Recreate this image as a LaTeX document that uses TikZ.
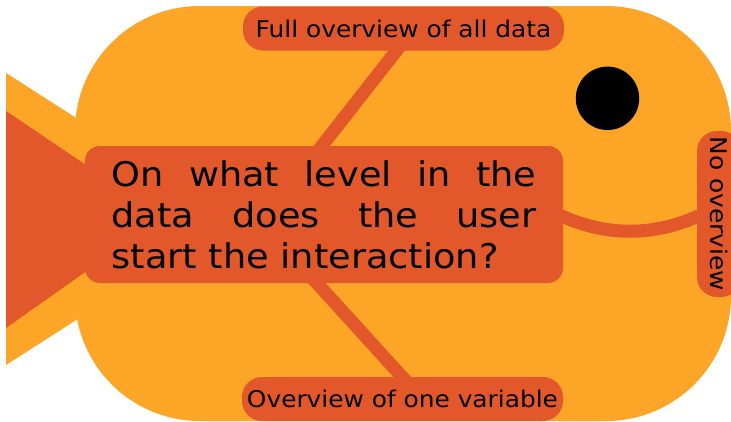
\documentclass[tikz,border=0pt]{standalone}
\usepackage{fontspec}
\setmainfont{DejaVu Sans}[FakeStretch=1.08]
\definecolor{fishbody}{RGB}{252,165,38}
\definecolor{fishred}{RGB}{227,88,42}
\pgfdeclarelayer{backdrop}
\pgfdeclarelayer{links}
\pgfsetlayers{backdrop,links,main}
\begin{document}
\begin{tikzpicture}[x=1pt,y=-1pt,
  pill/.style={fill=fishred, rounded corners=20pt, inner sep=0pt,
    minimum height=44pt, font=\fontsize{23}{27}\selectfont},
  bigbox/.style={fill=fishred, rounded corners=15pt, inner sep=0pt},
  link/.style={draw=fishred, line width=13pt},
]
% page frame; anything beyond it falls off the page
\useasboundingbox (0,0) rectangle (731,421);

\begin{pgfonlayer}{backdrop}
  \fill[white] (0,0) rectangle (731,421);
  % fish body
  \fill[fishbody, rounded corners=125pt] (75,6) rectangle (731,421);
  % tail: orange rim with red inner fin
  \fill[fishbody] (6,73) -- (234,219) -- (6,365) -- cycle;
  \fill[fishred] (6,111) -- (163,217) -- (6,328) -- cycle;
  % eye
  \fill[black] (607.5,98.3) circle[radius=31.7pt];
\end{pgfonlayer}

% anchor points of the straight links
\coordinate (topfoot) at (310.8,160);
\coordinate (tophead) at (408,36);
\coordinate (botfoot) at (305,270);
\coordinate (bothead) at (414,390);

% question in the middle
\node[bigbox, minimum width=478pt, minimum height=137pt] (main) at (324,214.5)
  {\parbox{425pt}{\fontsize{34}{41}\selectfont
    On\hfill what\hfill level\hfill in\hfill the\\
    data\hfill does\hfill the\hfill user\\
    start the interaction?}};

% answers
\node[pill, minimum width=321pt] (full) at (403.5,28.5) {Full overview of all data};
\node[pill, minimum width=321pt] (one) at (402.5,399) {Overview of one variable};
\node[pill, minimum width=166pt, rotate=-90] (none) at (719,214) {No overview};

% links, kept beneath the boxes
\begin{pgfonlayer}{links}
  \draw[link] (topfoot) -- (tophead);
  \draw[link] (botfoot) -- (bothead);
  % the smile: ends tucked inside both boxes so only the shallow arc shows
  \draw[link] ([shift={(-23,-9.5)}]main.east) .. controls (600,240) and (660,240)
    .. ([shift={(23,-9)}]none.south);
\end{pgfonlayer}
\end{tikzpicture}
\end{document}
